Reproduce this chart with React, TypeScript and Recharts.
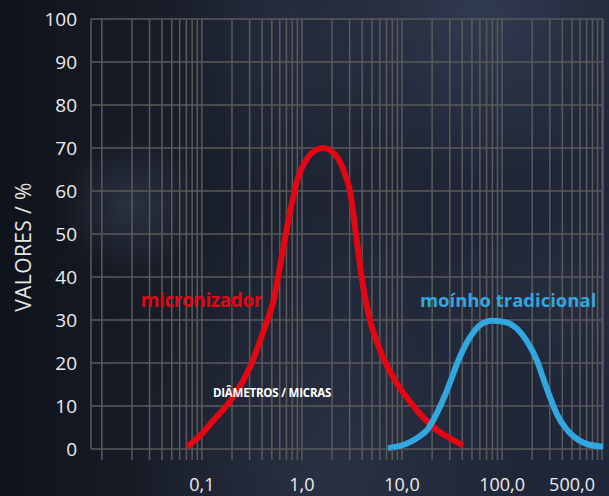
import React from 'react';
import { LineChart, Line, XAxis, YAxis, CartesianGrid, ReferenceDot } from 'recharts';

// micronizador (red) – diameter in microns, value in %
const redX = [0.071, 0.095, 0.129, 0.204, 0.302, 0.407, 0.525, 0.631, 0.759, 0.912, 1.12, 1.35, 1.62, 2.14, 2.69, 3.02, 3.55, 4.07, 4.79, 6.03, 8.51, 12.0, 16.2, 22.4, 30.2, 40.7];
const redY = [0.5, 3, 6.5, 12, 19, 27, 35, 45, 55, 63, 67.5, 69.4, 70, 68.5, 64, 60, 48, 38, 30, 23, 16, 11, 7.4, 4.4, 2.5, 0.8];

// moínho tradicional (blue)
const blueX = [7.24, 9.55, 12.0, 15.1, 17.8, 22.4, 26.9, 30.2, 38.0, 47.9, 60.3, 79.4, 107, 141, 178, 224, 257, 302, 355, 427, 513, 676, 1020];
const blueY = [0.2, 0.7, 1.6, 3, 4.4, 8.4, 12.5, 15.5, 21.5, 26, 28.8, 29.8, 29.5, 28, 25, 20.5, 16.5, 12, 8, 5, 3, 1.3, 0.5];

const yTicks = [0, 10, 20, 30, 40, 50, 60, 70, 80, 90, 100];
const xLabelValues = [0.1, 1, 10, 100, 500];
const xLabelTexts = ['0,1', '1,0', '10,0', '100,0', '500,0'];
const gridDecades = [0.01, 0.1, 1, 10, 100];
const gridMantissas = [1, 2, 3, 4, 5, 6, 7, 8, 9];
const gridTicks = gridDecades
  .flatMap((d) => gridMantissas.map((m) => Number((m * d).toPrecision(3))))
  .concat([1000]);

const annotationTexts = ['micronizador', 'moínho tradicional', 'DIÂMETROS / MICRAS'];
const annotationX = [0.0245, 15.1, 0.129];
const annotationY = [33, 33, 12.1];

const redData = redX.map((x, i) => ({ x, y: redY[i] }));
const blueData = blueX.map((x, i) => ({ x, y: blueY[i] }));

const RED = '#e30613';
const BLUE = '#32a6de';
const GRID = '#5a5a5a';
const FONT = '"Open Sans", "Noto Sans", sans-serif';

const fmtX = (v: number) => {
  const i = xLabelValues.findIndex((t) => Math.abs(t - v) / t < 1e-6);
  return i >= 0 ? xLabelTexts[i] : '';
};

const makeLabel =
  (text: string, color: string, size: number, weight: number, spacing: number) =>
  (props: any) => {
    const vb = props.viewBox || {};
    const x = (vb.x || 0) + (vb.width || 0) / 2;
    const y = (vb.y || 0) + (vb.height || 0) / 2;
    return (
      <text
        x={x}
        y={y}
        fill={color}
        fontSize={size}
        fontWeight={weight}
        fontFamily={FONT}
        letterSpacing={spacing}
        textAnchor="start"
      >
        {text}
      </text>
    );
  };

const annotationStyles = [
  { color: RED, size: 19, weight: 700, spacing: -0.4 },
  { color: BLUE, size: 18.5, weight: 700, spacing: 0 },
  { color: '#ffffff', size: 11.5, weight: 700, spacing: -0.2 },
];

const renderYLabel = (props: any) => {
  const vb = props.viewBox || {};
  const cx = 23;
  const cy = (vb.y || 0) + (vb.height || 0) / 2 + 13;
  return (
    <text
      x={cx}
      y={cy}
      transform={`rotate(-90, ${cx}, ${cy})`}
      textAnchor="middle"
      dominantBaseline="central"
      fill="#e6e6e6"
      fontSize={21}
      letterSpacing={0.4}
      fontFamily={FONT}
    >
      VALORES / %
    </text>
  );
};

export default function App() {
  return (
    <div
      style={{
        width: 609,
        height: 496,
        position: 'relative',
        overflow: 'hidden',
        background: [
          'radial-gradient(circle at 130px 205px, rgba(60,68,88,0.55) 0px, rgba(60,68,88,0) 70px)',
          'radial-gradient(ellipse at 480px 10px, rgba(52,62,84,0.85) 0px, rgba(52,62,84,0) 170px)',
          'radial-gradient(ellipse at 290px 30px, rgba(48,56,76,0.5) 0px, rgba(48,56,76,0) 120px)',
          'radial-gradient(ellipse at 330px 470px, rgba(46,54,74,0.7) 0px, rgba(46,54,74,0) 200px)',
          'radial-gradient(ellipse at 560px 300px, rgba(44,52,70,0.5) 0px, rgba(44,52,70,0) 150px)',
          'linear-gradient(90deg, #0f131b 0%, #171c27 25%, #1e2433 55%, #20273a 100%)',
        ].join(','),
      }}
    >
      <style>{'body{margin:0}'}</style>
      <LineChart width={609} height={496} margin={{ top: 19, right: 6, bottom: 0, left: 0 }}>
        <CartesianGrid stroke={GRID} strokeWidth={1.5} />
        <XAxis
          dataKey="x"
          type="number"
          scale="log"
          domain={[0.0078, 1020]}
          allowDataOverflow
          ticks={gridTicks}
          interval={0}
          tickFormatter={fmtX}
          tickLine={{ stroke: GRID, strokeWidth: 1.5 }}
          tickSize={11}
          tickMargin={18}
          axisLine={false}
          height={47}
          tick={{ fill: '#ececec', fontSize: 18, fontFamily: FONT }}
        />
        <YAxis
          type="number"
          domain={[0, 100]}
          ticks={yTicks}
          interval={0}
          width={91}
          axisLine={false}
          tickLine={false}
          tickSize={6}
          tickMargin={8}
          tick={{ fill: '#ececec', fontSize: 19, fontFamily: FONT }}
          label={renderYLabel}
        />
        <Line data={redData} dataKey="y" type="monotone" stroke={RED} strokeWidth={6} dot={false} isAnimationActive={false} />
        <Line data={blueData} dataKey="y" type="monotone" stroke={BLUE} strokeWidth={6} dot={false} isAnimationActive={false} />
        {annotationTexts.map((t, i) => (
          <ReferenceDot
            key={t}
            x={annotationX[i]}
            y={annotationY[i]}
            r={1}
            fill="none"
            stroke="none"
            label={makeLabel(
              t,
              annotationStyles[i].color,
              annotationStyles[i].size,
              annotationStyles[i].weight,
              annotationStyles[i].spacing
            )}
          />
        ))}
      </LineChart>
    </div>
  );
}
